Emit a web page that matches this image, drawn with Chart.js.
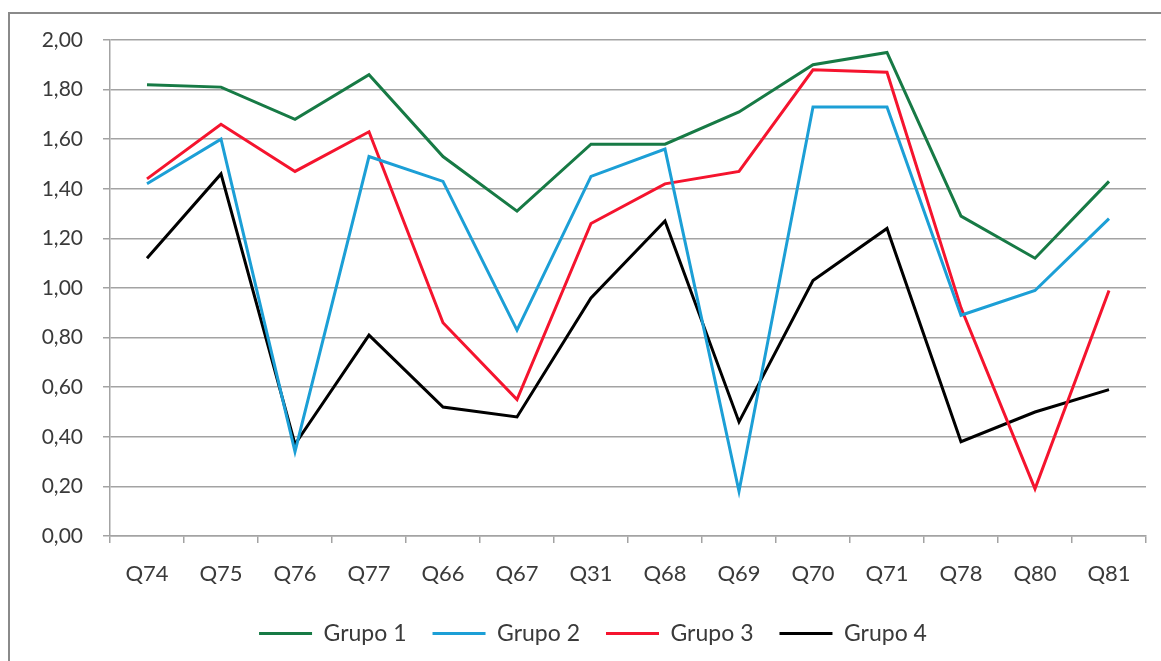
<!DOCTYPE html>
<html>
<head>
<meta charset="utf-8">
<script src="https://cdn.jsdelivr.net/npm/chart.js@4/dist/chart.umd.min.js"></script>
<style>
  html, body { margin: 0; padding: 0; background: #ffffff; }
  #wrap { width: 1161px; height: 661px; position: relative; }
</style>
</head>
<body>
<div id="wrap"><canvas id="c" width="1161" height="661"></canvas></div>
<script>
const categories = ['Q74', 'Q75', 'Q76', 'Q77', 'Q66', 'Q67', 'Q31', 'Q68', 'Q69', 'Q70', 'Q71', 'Q78', 'Q80', 'Q81'];

const grupo1 = [1.82, 1.81, 1.68, 1.86, 1.53, 1.31, 1.58, 1.58, 1.71, 1.90, 1.95, 1.29, 1.12, 1.43];
const grupo2 = [1.42, 1.60, 0.34, 1.53, 1.43, 0.83, 1.45, 1.56, 0.18, 1.73, 1.73, 0.89, 0.99, 1.28];
const grupo3 = [1.44, 1.66, 1.47, 1.63, 0.86, 0.55, 1.26, 1.42, 1.47, 1.88, 1.87, 0.92, 0.19, 0.99];
const grupo4 = [1.12, 1.46, 0.37, 0.81, 0.52, 0.48, 0.96, 1.27, 0.46, 1.03, 1.24, 0.38, 0.50, 0.59];

const seriesNames = ['Grupo 1', 'Grupo 2', 'Grupo 3', 'Grupo 4'];
const seriesColors = ['#177a45', '#1c9fd6', '#f5142e', '#000000'];

const yTicks = [0, 0.2, 0.4, 0.6, 0.8, 1.0, 1.2, 1.4, 1.6, 1.8, 2.0];

const FONT = 'Lato, "Open Sans", "DejaVu Sans", sans-serif';
const TEXT = '#3a3a3a';
const GRID = '#a3a3a3';

// outer frame around the chart
const framePlugin = {
  id: 'frame',
  beforeDraw(chart) {
    const ctx = chart.ctx;
    ctx.save();
    ctx.fillStyle = '#ffffff';
    ctx.fillRect(0, 0, chart.width, chart.height);
    ctx.strokeStyle = '#8a8a8a';
    ctx.lineWidth = 2;
    ctx.beginPath();
    ctx.moveTo(9, chart.height + 2);
    ctx.lineTo(9, 13);
    ctx.lineTo(chart.width + 2, 13);
    ctx.stroke();
    ctx.restore();
  }
};

const datasets = [grupo1, grupo2, grupo3, grupo4].map((vals, i) => ({
  label: seriesNames[i],
  data: vals,
  borderColor: seriesColors[i],
  backgroundColor: seriesColors[i],
  borderWidth: 3,
  pointRadius: 0,
  pointHoverRadius: 0,
  tension: 0,
  fill: false
}));

new Chart(document.getElementById('c'), {
  type: 'line',
  data: { labels: categories, datasets },
  plugins: [framePlugin],
  options: {
    responsive: false,
    animation: false,
    events: [],
    layout: { padding: { left: 40, right: 15, top: 40, bottom: 6 } },
    plugins: {
      tooltip: { enabled: false },
      legend: {
        position: 'bottom',
        labels: {
          boxWidth: 53,
          boxHeight: 3,
          padding: 26,
          color: TEXT,
          font: { family: FONT, size: 23 },
          generateLabels(chart) {
            return chart.data.datasets.map((ds, i) => ({
              text: ds.label,
              fillStyle: ds.borderColor,
              strokeStyle: ds.borderColor,
              lineWidth: 0,
              fontColor: TEXT,
              datasetIndex: i,
              hidden: false
            }));
          }
        }
      }
    },
    scales: {
      x: {
        offset: true,
        grid: {
          offset: true,
          drawOnChartArea: false,
          drawTicks: true,
          tickLength: 7,
          color: GRID,
          lineWidth: 1.5
        },
        border: { display: true, color: GRID, width: 1.5 },
        ticks: {
          color: TEXT,
          padding: 18,
          maxRotation: 0,
          autoSkip: false,
          font: { family: FONT, size: 22 }
        },
        afterFit(scale) { scale.height = 60; }
      },
      y: {
        min: 0,
        max: 2,
        afterBuildTicks(scale) { scale.ticks = yTicks.map(v => ({ value: v })); },
        grid: {
          color: GRID,
          lineWidth: 1.5,
          tickLength: 7
        },
        border: { display: true, color: GRID, width: 1.5 },
        ticks: {
          color: TEXT,
          padding: 20,
          font: { family: FONT, size: 21 },
          callback: v => Number(v).toFixed(2).replace('.', ',')
        },
        afterFit(scale) { scale.width = 70; }
      }
    }
  }
});
</script>
</body>
</html>
